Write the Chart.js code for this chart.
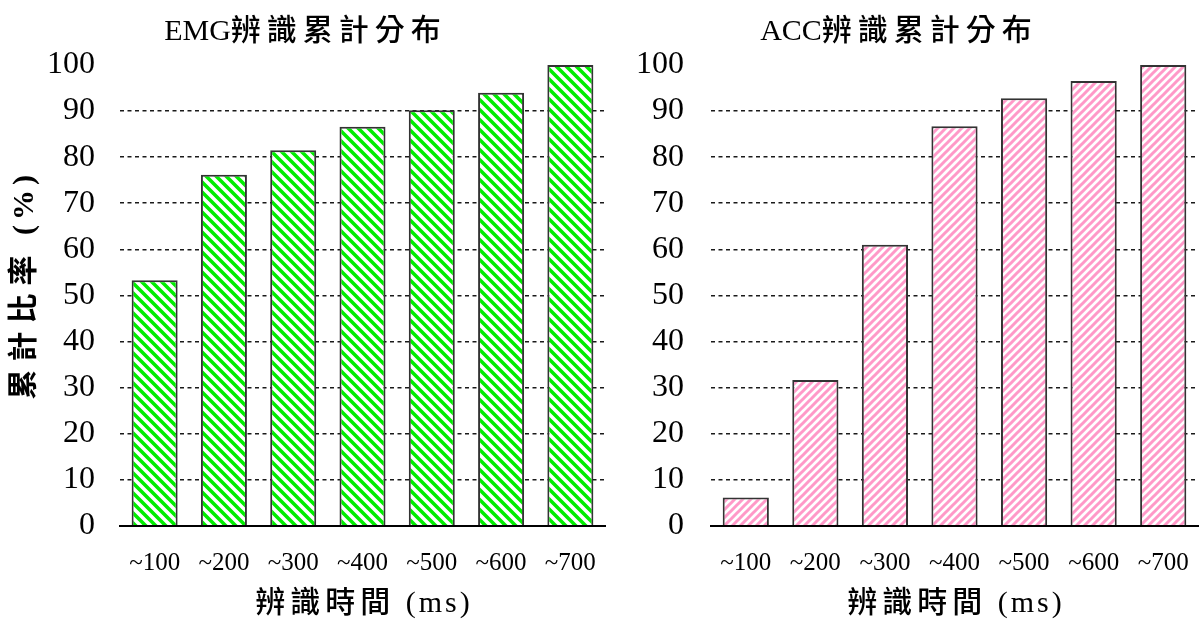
<!DOCTYPE html>
<html>
<head>
<meta charset="utf-8">
<script src="https://cdn.jsdelivr.net/npm/chart.js@4.4.1/dist/chart.umd.min.js"></script>
<style>
  html, body { margin: 0; padding: 0; background: #fff; }
  #wrap { position: relative; width: 1200px; height: 619px; overflow: hidden; }
  .panel { position: absolute; top: 0; height: 619px; }
  #emgBox { left: 0; width: 606px; }
  #accBox { left: 594px; width: 606px; }
</style>
</head>
<body>
<div id="wrap">
  <div class="panel" id="emgBox"><canvas id="emgChart" width="606" height="619"></canvas></div>
  <div class="panel" id="accBox"><canvas id="accChart" width="606" height="619"></canvas></div>
</div>
<script>
// Recognition-time bins (ms)
const timeBins = ['~100', '~200', '~300', '~400', '~500', '~600', '~700'];

// Cumulative recognition rate (%) per time bin
const emgCumulative = [53.3, 76.2, 81.5, 86.6, 90.2, 94.0, 100];
const accCumulative = [6.1, 31.6, 61.0, 86.7, 92.8, 96.5, 100];

// Y axis range and step (%)
const yMin = 0;
const yMax = 100;
const yStep = 10;

// Text
const emgTitle = 'EMG辨識累計分布';
const accTitle = 'ACC辨識累計分布';
const xTitle = '辨識時間 (ms)';
const yTitle = '累計比率 (%)';

const FONT = "'Liberation Serif', 'Noto Sans CJK TC', serif";

// Letter spacing (px) for headings: after CJK glyphs, after Latin glyphs,
// and a lead-in offset along the text direction.
const tracking = new Map([
  [emgTitle, { cjk: 6, latin: 0, lead: 0 }],
  [accTitle, { cjk: 6, latin: 0, lead: 0 }],
  [xTitle,   { cjk: 5, latin: 3, lead: 0 }],
  [yTitle,   { cjk: 8, latin: 5, lead: 16 }]
]);

const isCJK = (ch) => /[\u3000-\u9fff\uff00-\uffef]/.test(ch);

const cjkTracking = {
  id: 'cjkTracking',
  beforeInit(chart) {
    const ctx = chart.ctx;
    const nativeFill = ctx.fillText.bind(ctx);
    ctx.fillText = function (text, x, y, maxWidth) {
      const t = tracking.get(text);
      if (t === undefined) return nativeFill(text, x, y, maxWidth);
      const chars = Array.from(text);
      const adv = chars.map((ch, i) => {
        const w = ctx.measureText(ch).width;
        if (i === chars.length - 1) return w;
        return w + (isCJK(ch) ? t.cjk : t.latin);
      });
      const total = t.lead + adv.reduce((a, b) => a + b, 0);
      const align = ctx.textAlign;
      let cx = x;
      if (align === 'center') cx = x - total / 2;
      else if (align === 'right' || align === 'end') cx = x - total;
      cx += t.lead;
      ctx.textAlign = 'left';
      chars.forEach((ch, i) => { nativeFill(ch, cx, y); cx += adv[i]; });
      ctx.textAlign = align;
    };
  }
};

// Diagonal hatch fill used for the bars
function hatch(color, period, width, rising) {
  const c = document.createElement('canvas');
  c.width = period; c.height = period;
  const g = c.getContext('2d');
  g.fillStyle = '#fff';
  g.fillRect(0, 0, period, period);
  g.strokeStyle = color;
  g.lineWidth = width;
  g.lineCap = 'square';
  g.beginPath();
  for (let k = -1; k <= 1; k++) {
    const x0 = k * period;
    if (rising) { g.moveTo(x0, period); g.lineTo(x0 + period, 0); }
    else { g.moveTo(x0, 0); g.lineTo(x0 + period, period); }
  }
  g.stroke();
  return g.createPattern(c, 'repeat');
}

function makeChart(canvasId, values, title, fill, opts) {
  return new Chart(document.getElementById(canvasId), {
    type: 'bar',
    plugins: [cjkTracking],
    data: {
      labels: timeBins,
      datasets: [{
        data: values,
        backgroundColor: fill,
        borderColor: '#333',
        borderWidth: 2,
        borderSkipped: 'start',
        barPercentage: 0.664,
        categoryPercentage: 1.0
      }]
    },
    options: {
      responsive: false,
      devicePixelRatio: 1,
      animation: false,
      layout: { padding: { left: 0, right: opts.padRight, top: 0, bottom: 0 } },
      plugins: {
        legend: { display: false },
        tooltip: { enabled: false },
        title: {
          display: true,
          text: title,
          color: '#000',
          font: { family: FONT, size: 30, weight: 500, lineHeight: 1.2 },
          padding: { top: 14, bottom: 15 }
        }
      },
      scales: {
        x: {
          grid: { display: false, drawTicks: true, tickLength: 23 },
          border: { display: true, color: '#000', width: 2, z: 1 },
          ticks: {
            color: '#000',
            padding: 0,
            font: { family: FONT, size: 25 }
          },
          title: {
            display: true,
            text: xTitle,
            color: '#000',
            font: { family: FONT, size: 30, weight: 500, lineHeight: 1.0 },
            padding: { top: 0, bottom: 0 }
          },
          afterFit: (s) => { s.height = 93.3; }
        },
        y: {
          min: yMin,
          max: yMax,
          grid: {
            drawTicks: false,
            lineWidth: 1.5,
            color: (ctx) => (ctx.tick && (ctx.tick.value === yMin || ctx.tick.value === yMax)) ? 'rgba(0,0,0,0)' : '#1a1a1a'
          },
          border: { display: false, dash: [4, 3.5] },
          ticks: {
            stepSize: yStep,
            color: '#000',
            padding: opts.tickPad,
            font: { family: FONT, size: 32 }
          },
          title: {
            display: opts.showYTitle,
            text: yTitle,
            color: '#000',
            font: { family: FONT, size: 30, weight: 'bold', lineHeight: 1.2 },
            padding: { top: 7, bottom: 0 }
          },
          afterFit: (s) => { s.width = opts.axisWidth; }
        }
      }
    }
  });
}

makeChart('emgChart', emgCumulative, emgTitle, hatch('#00ee00', 10, 3.6, false),
  { padRight: 1, tickPad: 25, axisWidth: 120, showYTitle: true });
makeChart('accChart', accCumulative, accTitle, hatch('#ff99c8', 8, 3.0, true),
  { padRight: 2, tickPad: 27, axisWidth: 117, showYTitle: false });
</script>
</body>
</html>
